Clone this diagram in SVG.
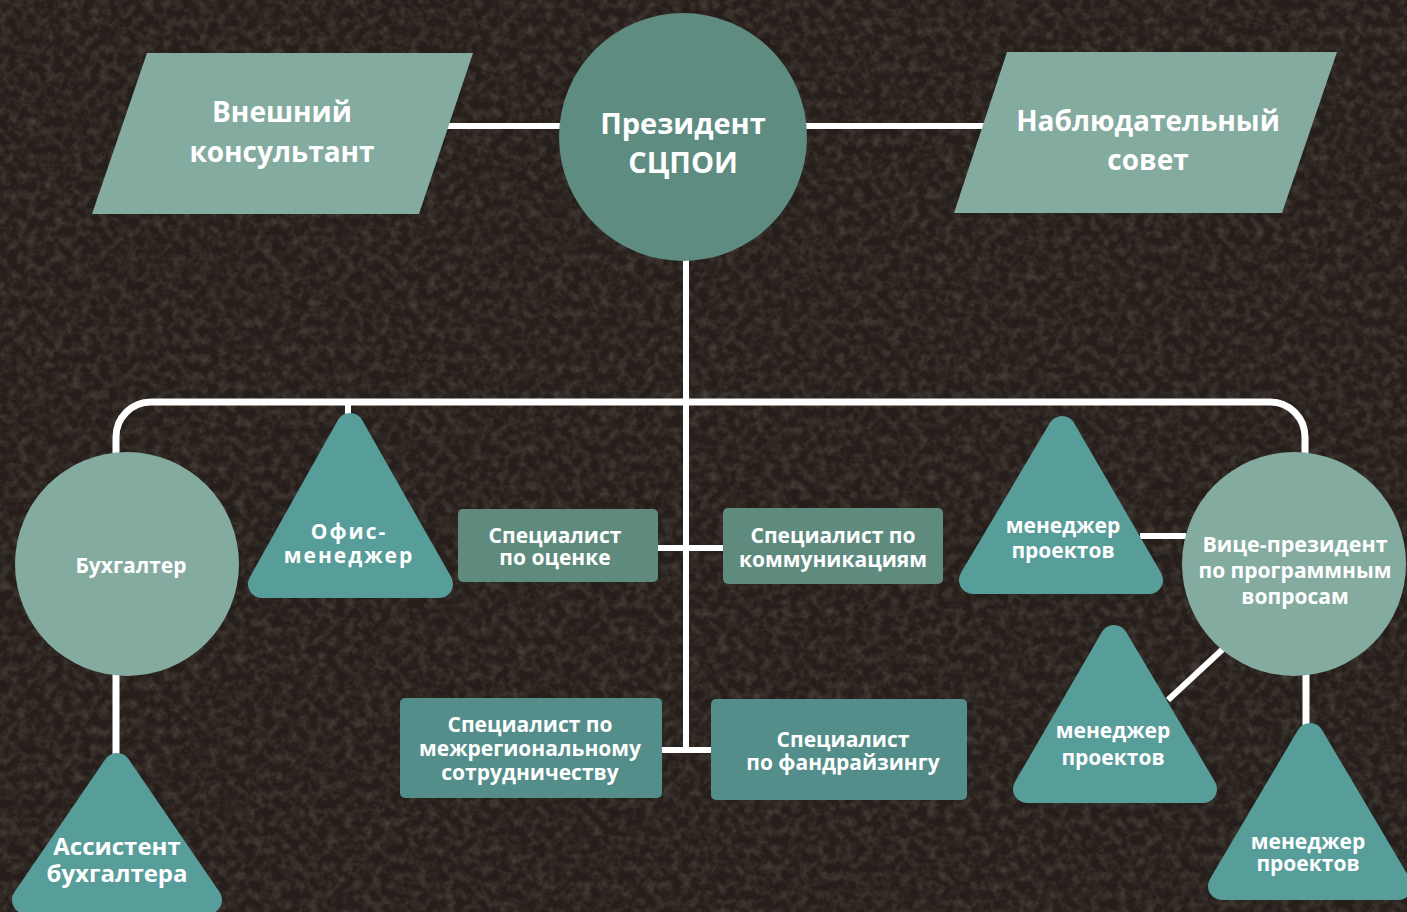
<svg xmlns="http://www.w3.org/2000/svg" width="1407" height="912" viewBox="0 0 1407 912">
<defs>
<filter id="soil" x="0" y="0" width="1407" height="912" filterUnits="userSpaceOnUse">
<feTurbulence type="fractalNoise" baseFrequency="0.11" numOctaves="4" seed="7"/>
<feColorMatrix type="matrix" values="0 0 0 0 0.40  0 0 0 0 0.34  0 0 0 0 0.28  1.1 0 0 0 -0.42"/>
</filter>
<style>
.t{font-family:"Open Sans","Noto Sans","DejaVu Sans",sans-serif;font-weight:700;fill:#ffffff;text-anchor:middle;}
.big{font-size:28px;}
.mid{font-size:21px;}
.light{fill:#84aba0;}
.pres{fill:#5e8c80;}
.rtop{fill:#5e8b7e;}
.rbot{fill:#538e8a;}
.tri{fill:#579d9a;stroke:#579d9a;stroke-width:28;stroke-linejoin:round;}
.c{stroke:#ffffff;stroke-width:6;fill:none;}
</style>
</defs>
<rect x="0" y="0" width="1407" height="912" fill="#251e1a"/>
<rect x="0" y="0" width="1407" height="912" filter="url(#soil)" opacity="0.45"/>

<g id="connectors">
<path class="c" d="M444,126 H560"/>
<path class="c" d="M805,126 H986"/>
<path class="c" d="M686,256 V750"/>
<path class="c" style="stroke-width:7" d="M116,456 V437 A35,35 0 0 1 151,402 H1270 A35,35 0 0 1 1305,437 V456"/>
<path class="c" d="M348,402 V418"/>
<path class="c" d="M656,548 H726"/>
<path class="c" d="M660,750 H713"/>
<path class="c" style="stroke-width:7" d="M116,672 V758"/>
<path class="c" d="M1140,536 H1186"/>
<path class="c" d="M1224,648 L1168,700"/>
<path class="c" style="stroke-width:7" d="M1306,672 V727"/>
</g>

<g id="n-consultant">
<polygon class="light" points="147,53 473,53 419,214 92,214"/>
<text class="t big"><tspan x="282" y="122">Внешний</tspan><tspan x="282" y="162">консультант</tspan></text>
</g>

<g id="n-president">
<circle class="pres" cx="683" cy="137" r="124"/>
<text class="t big" style="font-size:29px"><tspan x="683" y="134">Президент</tspan><tspan x="683" y="173">СЦПОИ</tspan></text>
</g>

<g id="n-board">
<polygon class="light" points="1007,52 1337,52 1282,213 954,213"/>
<text class="t big"><tspan x="1148" y="131">Наблюдательный</tspan><tspan x="1148" y="170">совет</tspan></text>
</g>

<g id="n-accountant">
<circle class="light" cx="127" cy="564" r="112"/>
<text class="t mid" x="131" y="573">Бухгалтер</text>
</g>

<g id="n-office">
<polygon class="tri" points="350,427 262,584 439,584"/>
<text class="t mid" style="letter-spacing:2px"><tspan x="349" y="539">Офис-</tspan><tspan x="349" y="563">менеджер</tspan></text>
</g>

<g id="n-eval">
<rect class="rtop" x="458" y="509" width="200" height="73" rx="5"/>
<text class="t mid"><tspan x="555" y="543">Специалист</tspan><tspan x="555" y="565">по оценке</tspan></text>
</g>

<g id="n-comm">
<rect class="rtop" x="723" y="508" width="220" height="76" rx="5"/>
<text class="t mid"><tspan x="833" y="543">Специалист по</tspan><tspan x="833" y="567">коммуникациям</tspan></text>
</g>

<g id="n-interreg">
<rect class="rbot" x="400" y="698" width="262" height="100" rx="5"/>
<text class="t mid"><tspan x="530" y="732">Специалист по</tspan><tspan x="530" y="756">межрегиональному</tspan><tspan x="530" y="780">сотрудничеству</tspan></text>
</g>

<g id="n-fund">
<rect class="rbot" x="711" y="699" width="256" height="101" rx="5"/>
<text class="t mid"><tspan x="843" y="747">Специалист</tspan><tspan x="843" y="770">по фандрайзингу</tspan></text>
</g>

<g id="n-pm1">
<polygon class="tri" points="1062,430 973,580 1149,580"/>
<text class="t mid"><tspan x="1063" y="533">менеджер</tspan><tspan x="1063" y="558">проектов</tspan></text>
</g>

<g id="n-vp">
<circle class="light" cx="1294" cy="564" r="112"/>
<text class="t mid"><tspan x="1295" y="552" style="font-size:21.5px">Вице-президент</tspan><tspan x="1295" y="578">по программным</tspan><tspan x="1295" y="604">вопросам</tspan></text>
</g>

<g id="n-pm2">
<polygon class="tri" points="1114,639 1027,789 1203,789"/>
<text class="t mid"><tspan x="1113" y="738">менеджер</tspan><tspan x="1113" y="765">проектов</tspan></text>
</g>

<g id="n-pm3">
<polygon class="tri" points="1310,737 1222,886 1398,886"/>
<text class="t mid"><tspan x="1308" y="849">менеджер</tspan><tspan x="1308" y="871">проектов</tspan></text>
</g>

<g id="n-assistant">
<polygon class="tri" points="117,767 26,900 208,900"/>
<text class="t mid" style="font-size:24px"><tspan x="117" y="855">Ассистент</tspan><tspan x="117" y="882">бухгалтера</tspan></text>
</g>
</svg>
